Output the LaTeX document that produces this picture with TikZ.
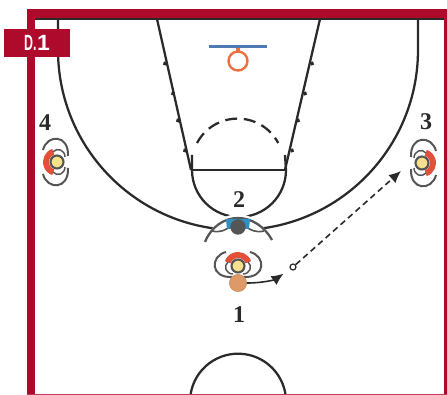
\documentclass[tikz,border=0pt]{standalone}
\usepackage{fontspec}
\setmainfont{Liberation Serif}
\newfontfamily\boxfont{Liberation Sans}
\usetikzlibrary{positioning,arrows.meta,calc}
\definecolor{wine}{HTML}{AE0A2C}
\definecolor{ink}{HTML}{2B2A2A}
\definecolor{pgrey}{HTML}{555555}
\definecolor{shoulder}{HTML}{E2503A}
\definecolor{head}{HTML}{F7E08C}
\definecolor{hoopc}{HTML}{E9703F}
\definecolor{board}{HTML}{4F79B5}
\definecolor{guard}{HTML}{2F8FC4}
\definecolor{ballc}{HTML}{DD9A68}
\tikzset{court/.style={draw=ink,line width=1.7pt},
         num/.style={font=\fontsize{18}{18}\selectfont\bfseries,text=ink,inner sep=0pt},
         arr/.style={-{Latex[length=9pt,width=8pt]},ink,line width=1.2pt},
         tick/.style={draw=ink,line width=2.6pt},
         player/.pic={
           \fill[shoulder] (200:8) arc (200:340:8) -- (340:14) arc (340:200:14) -- cycle;
           \draw[pgrey,line width=1.5pt] (-6,11) .. controls (-28,12) and (-28,-10) .. (-12,-14);
           \draw[pgrey,line width=1.5pt] (6,11) .. controls (28,12) and (28,-10) .. (12,-14);
           \draw[pgrey,line width=1.1pt] (-5,8) .. controls (-12,8) and (-15,0) .. (-10,-4);
           \draw[pgrey,line width=1.1pt] (5,8) .. controls (12,8) and (15,0) .. (10,-4);
           \filldraw[draw=pgrey,fill=head,line width=1.6pt] (0,0) circle (6.5);
         }}
\begin{document}
\begin{tikzpicture}[x=.75pt,y=-.75pt]
 \useasboundingbox (0,0) rectangle (447,395);
 % court lines
 \draw[court] (58,19) -- (58,50) arc (180:0:180) -- (418,19);
 \draw[court] (157,19) -- (191,170);
 \draw[court] (320,19) -- (285,170);
 \draw[court] (192,155) -- (192,170) arc (180:0:47) -- (285,155);
 \draw[court] (192,170) -- (285,170);
 \draw[court,dash pattern=on 9pt off 5pt] (197,143) arc (-152:-28:46);
 \draw[court] (190.5,395) arc (188:352:48);
 \foreach \lx/\ly in {165/63,173/93,178/120,185/150} \draw[tick] (\lx-1.5,\ly) -- (\lx+1.5,\ly+1);
 \foreach \lx/\ly in {312/63,305/93,298/120,292/150} \draw[tick] (\lx+1.5,\ly) -- (\lx-1.5,\ly+1);
 % basket
 \draw[hoopc,line width=1.8pt] (238,61) circle (9.5);
 \draw[hoopc,line width=3pt] (238,47) -- (238,52);
 \draw[board,line width=2.6pt] (209,46.5) -- (267,46.5);
 % frame
 \fill[ink] (35,17) rectangle (444,20);
 \fill[wine] (27,9.5) rectangle (447,18);
 \fill[wine] (27,9.5) rectangle (35,395);
 \fill[wine] (444,9.5) rectangle (447,395);
 \fill[wine!80] (27,394) rectangle (447,395);
 \node[fill=wine,text=white,font=\boxfont\bfseries\fontsize{15}{15}\selectfont,minimum width=49.5pt,minimum height=21pt,inner sep=0pt] (tag) at (37,43) {\scalebox{.62}[1.1]{D.}\kern.5pt\scalebox{1.15}[1.1]{1}};
 % players
 \pic[rotate=90] at (57,162) {player};
 \pic[rotate=-90] at (422,163) {player};
 \pic at (238,266) {player};
 % player 2
 \fill[white] (204,244) .. controls (212,222) and (226,214) .. (238,214) .. controls (250,214) and (264,222) .. (273,244) -- (262,238) -- (238,236) -- (214,238) -- cycle;
 \draw[pgrey,line width=1.7pt] (205,242) .. controls (211,227) and (224,218) .. (238,218) .. controls (252,218) and (265,227) .. (272,240);
 \draw[pgrey,line width=1.2pt] (212,231) .. controls (220,233) and (226,230) .. (231,226);
 \draw[pgrey,line width=1.2pt] (264,231) .. controls (256,233) and (250,230) .. (245,226);
 \fill[guard] (226,219) -- (250,219) -- (249,229) -- (227,229) -- cycle;
 \filldraw[draw=ink!80,fill=pgrey,line width=1pt] (238,227) circle (7);
 % ball and cut
 \node[circle,fill=ballc,draw=ballc!85!black,line width=.3pt,minimum size=13pt,inner sep=0pt] (ball) at (238,283) {};
 \node[circle,draw=ink,fill=white,line width=.9pt,minimum size=4.5pt,inner sep=0pt] (cut) at (293,267) {};
 \coordinate (tip3) at (401,171);
 \draw[arr,shorten >=6pt] (ball.east) to[out=0,in=215] (cut);
 \draw[arr,dash pattern=on 4.5pt off 3pt] (cut) -- (tip3);
 % numbers
 \node[num] (n4) at (45,123) {4};
 \node[num] (n3) at (426,122) {3};
 \node[num] (n2) at (239,200) {2};
 \node[num] (n1) at (239,315) {1};
\end{tikzpicture}
\end{document}
